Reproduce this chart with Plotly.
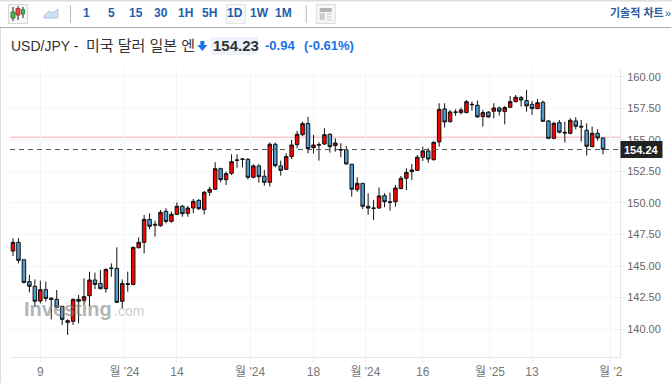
import plotly.graph_objects as go

W, H = 672, 383
PL, PR, PT, PB = 10, 620.5, 68, 357

opens = [146.19,146.88,145.50,143.76,143.39,142.22,143.12,142.46,142.35,141.80,140.66,140.61,142.35,142.27,142.64,143.89,143.62,143.20,144.84,144.81,142.20,143.60,143.54,146.45,146.88,148.70,148.31,148.20,
149.34,148.54,149.10,149.74,149.18,149.60,150.21,149.47,150.85,151.09,152.72,151.85,152.35,153.41,153.49,153.47,152.04,152.94,152.12,151.64,154.66,152.94,152.67,
153.68,154.63,155.42,156.30,154.39,154.63,154.68,155.45,154.55,154.23,154.23,153.07,151.06,151.56,149.74,149.60,149.60,150.58,150.10,150.10,151.14,151.96,152.49,152.59,153.63,154.13,153.44,
154.84,157.46,156.45,157.22,157.17,157.17,157.83,157.75,156.85,157.20,157.28,157.54,157.25,157.59,158.04,158.36,158.12,157.83,157.49,157.99,156.51,155.13,156.38,155.61,155.53,156.51,156.09,155.77,154.47,155.53,155.16]
highs = [147.20,147.20,145.50,144.29,143.94,143.84,143.76,142.46,143.09,141.82,140.77,142.43,142.70,144.02,144.55,144.47,144.68,144.81,145.21,146.48,143.94,144.55,146.53,147.27,149.05,149.18,148.60,149.44,
149.58,149.31,150.05,149.84,149.76,150.32,150.29,150.95,151.30,153.23,152.80,152.49,153.86,153.86,153.55,153.55,153.07,153.07,152.62,154.79,154.79,153.36,153.94,
155.00,155.72,156.46,156.85,155.40,154.82,155.93,155.53,155.13,154.74,154.52,153.10,152.04,151.56,150.77,150.24,151.24,150.77,150.82,151.43,152.14,152.75,153.10,153.81,154.47,154.34,154.90,
157.91,157.91,157.38,157.43,157.57,158.17,158.04,158.12,157.38,157.30,157.91,157.65,157.70,158.49,158.57,158.49,158.97,158.10,158.25,158.12,156.59,156.45,156.59,156.45,156.72,156.80,156.59,156.32,156.06,155.85,155.19]
lows = [145.79,145.21,143.62,142.91,141.77,142.04,142.17,140.77,141.64,140.32,139.53,140.32,140.45,141.90,141.77,143.17,143.15,142.88,144.15,142.06,141.64,142.96,143.46,146.40,146.00,147.91,147.33,148.12,
148.39,148.44,149.05,148.91,148.91,149.18,149.44,149.10,150.56,151.03,151.64,151.43,152.22,152.80,152.83,151.88,151.96,151.61,151.38,151.30,152.83,152.17,152.62,
153.49,154.34,155.32,153.94,153.94,153.36,154.60,154.00,154.07,153.63,153.04,150.50,150.90,149.52,149.05,148.65,149.55,149.66,149.39,149.71,151.09,151.03,151.83,152.54,153.33,153.20,153.36,
154.47,155.98,156.38,156.91,157.04,157.12,157.33,156.77,156.06,156.77,156.72,156.93,156.24,157.57,157.99,157.65,157.25,156.99,157.43,156.45,155.08,155.05,155.53,154.79,155.45,155.85,154.87,153.76,154.42,154.95,153.86]
closes = [146.88,145.45,143.70,143.39,142.20,143.12,142.43,142.35,141.72,140.77,140.53,142.35,142.20,142.57,143.89,143.54,143.20,144.73,144.81,142.12,143.62,143.54,146.48,146.88,148.70,148.15,148.25,149.26,
148.54,149.10,149.74,149.15,149.60,150.13,149.55,150.85,151.09,152.72,151.85,152.33,153.28,153.39,153.47,152.04,152.94,152.09,151.64,154.66,152.96,152.59,153.68,
154.60,155.45,156.30,154.31,154.60,154.60,155.42,154.47,154.76,154.21,153.10,151.09,151.56,149.74,149.60,149.58,150.56,150.10,150.05,151.19,151.96,152.43,152.62,153.63,154.13,153.49,154.82,
157.43,156.43,157.22,157.20,157.38,158.04,157.80,156.83,157.17,156.83,157.54,157.28,157.57,158.04,158.39,158.17,157.70,157.49,157.96,156.48,155.13,156.32,155.61,155.56,156.56,156.09,156.03,154.50,155.53,155.16,154.26]
index = list(range(len(closes)))

x_tick_vals = [5, 20.4, 30, 43.4, 55, 64.5, 75, 87.3, 95, 109.4]
x_tick_text = ["9", "월 '24", "14", "월 '24", "18", "월 '24", "16", "월 '25", "13", "월 '2"]
y_tick_vals = [140, 142.5, 145, 147.5, 150, 152.5, 155, 157.5, 160]

last_price = 154.24
ref_price = 155.21
y_min, y_max = 137.78, 160.71
x_min, x_max = -0.55, 111.1

timeframes = ["1", "5", "15", "30", "1H", "5H", "1D", "1W", "1M"]
timeframe_x = [87, 112, 136, 161, 186, 210, 235, 260, 284]

FONT = "Liberation Sans, Noto Sans CJK KR, sans-serif"
BLUE = "#1f5ea8"


def px(v):
    return (v - PL) / (PR - PL)


def py(v):
    return (PB - v) / (PB - PT)


def rect(x0, y0, x1, y1, fill=None, line=None, lw=1):
    return dict(type="rect", xref="paper", yref="paper", x0=px(x0), x1=px(x1), y0=py(y0), y1=py(y1),
                fillcolor=fill or "rgba(0,0,0,0)", line=dict(color=line or "rgba(0,0,0,0)", width=lw if line else 0),
                layer="above")


def seg(x0, y0, x1, y1, color, lw=1):
    return dict(type="line", xref="paper", yref="paper", x0=px(x0), x1=px(x1), y0=py(y0), y1=py(y1),
                line=dict(color=color, width=lw), layer="above")


def text(x, y, s, size, color, anchor="left", bold=False, bg=None):
    return dict(xref="paper", yref="paper", x=px(x), y=py(y), text=f"<b>{s}</b>" if bold else s, showarrow=False,
                xanchor=anchor, yanchor="middle", font=dict(family=FONT, size=size, color=color),
                bgcolor=bg, borderpad=0, xshift=0, yshift=0)


shapes = [
    dict(type="line", xref="paper", yref="y", x0=0, x1=1, y0=ref_price, y1=ref_price,
         line=dict(color="#f9c9cb", width=1.5), layer="below"),
    dict(type="line", xref="paper", yref="y", x0=0, x1=1, y0=last_price, y1=last_price,
         line=dict(color="#555555", width=1, dash="5px,4px"), layer="above"),
    seg(0, 0.5, W, 0.5, "#dddddd", 2),
    seg(0, 27.5, W, 27.5, "#aaaaaa", 1),
    seg(0.5, 28, 0.5, H, "#dddddd", 1),
    rect(8.5, 4.5, 27.5, 23.5, "#f7f7f7", "#d5d5d5"),
    seg(13, 7, 13, 21, "#888888", 2), rect(11, 12, 15, 18, "#4fae4f", "#3c8a3c"),
    seg(18, 6, 18, 20, "#888888", 2), rect(16, 8.5, 20, 15, "#e04a4a", "#b83232"),
    seg(23, 7, 23, 18, "#888888", 2), rect(21.5, 9.5, 24.5, 14, "#4fae4f", "#3c8a3c"),
    dict(type="path", xref="paper", yref="paper", layer="above",
         path="M {} {} L {} {} L {} {} L {} {} L {} {} L {} {} Z".format(
             px(44), py(16), px(49), py(11), px(53), py(13), px(58), py(9), px(58), py(18), px(44), py(18)),
         fillcolor="#cfe0f3", line=dict(color="#a9c6e6", width=1)),
    seg(70.5, 5, 70.5, 23, "#bbbbbb"),
    seg(306.5, 5, 306.5, 23, "#bbbbbb"),
    rect(226.5, 4.5, 245.5, 23.5, "#f7f7f7", "#e2e2e2"),
    rect(316.5, 4.5, 335.5, 23.5, "#f7f7f7", "#dddddd"),
    rect(320, 8, 332, 12, "#b5b5b5"),
    rect(320, 13, 325, 20, "#cccccc"),
    seg(327, 14, 332, 14, "#c4c4c4"), seg(327, 17, 332, 17, "#c4c4c4"), seg(327, 20, 332, 20, "#c4c4c4"),
    dict(type="path", xref="paper", yref="paper", layer="above",
         path="M {} {} L {} {} L {} {} L {} {} L {} {} L {} {} L {} {} Z".format(
             px(200.5), py(41), px(204.5), py(41), px(204.5), py(45), px(207.5), py(45),
             px(202.5), py(51), px(197.5), py(45), px(200.5), py(45)),
         fillcolor="#1a73e8", line=dict(width=0)),
    rect(211, 37, 258, 55, "#edf2fb"),
    rect(621, 141, 663, 158, "#222222"),
]

annotations = [
    text(10, 45.5, "USD/JPY -", 14, "#333333"),
    text(85, 45.5, "미국 달러 일본 엔", 15, "#333333"),
    text(212, 45.5, "154.23", 15, "#333333", bold=True),
    text(264, 45.5, "-0.94", 13, "#1a73e8", bold=True),
    text(303, 45.5, "(-0.61%)", 13, "#1a73e8", bold=True),
    text(609, 12.5, "기술적 차트", 11, "#2b5c99", bold=True),
    text(665, 12.5, "»", 11, "#2b5c99"),
    text(642, 149.5, f"{last_price:.2f}", 11, "#ffffff", anchor="center", bold=True),
    text(23, 309, "Investing", 20, "rgba(135,135,135,0.65)", bold=True),
    text(113, 311, ".com", 14, "rgba(170,170,170,0.6)"),
]
annotations += [text(x, 13, t, 12, BLUE, anchor="center", bold=True) for x, t in zip(timeframe_x, timeframes)]

fig = go.Figure(go.Candlestick(
    x=index, open=opens, high=highs, low=lows, close=closes,
    increasing=dict(fillcolor="#ff0000", line=dict(color="#111111", width=1)),
    decreasing=dict(fillcolor="#4f9bd3", line=dict(color="#111111", width=1)),
    whiskerwidth=0, showlegend=False, hoverinfo="skip",
))

fig.update_layout(
    width=W, height=H, autosize=False, boxgap=0.2, boxgroupgap=0.2,
    margin=dict(l=PL, r=W - PR, t=PT, b=H - PB, pad=0, autoexpand=False),
    paper_bgcolor="#ffffff", plot_bgcolor="#ffffff",
    font=dict(family=FONT, color="#666666", size=12),
    showlegend=False, shapes=shapes, annotations=annotations,
    xaxis=dict(range=[x_min, x_max], rangeslider=dict(visible=False), tickmode="array",
               tickvals=x_tick_vals, ticktext=x_tick_text, ticks="outside", ticklen=4, tickcolor="#e6eaf2",
               showgrid=True, gridcolor="#f4f5f8", gridwidth=1, showline=True, linecolor="#e3e6ee", linewidth=1,
               zeroline=False, tickfont=dict(size=12, color="#777777")),
    yaxis=dict(range=[y_min, y_max], side="right", tickmode="array", tickvals=y_tick_vals, tickformat=".2f",
               ticks="outside", ticklen=4, tickcolor="#e6eaf2", showgrid=True, gridcolor="#f4f5f8", gridwidth=1,
               showline=True, linecolor="#e3e6ee", linewidth=1, zeroline=False,
               tickfont=dict(size=11, color="#666666")),
)

fig.write_html("out.html", config=dict(displayModeBar=False, responsive=False),
               post_script="document.body.style.margin='0';document.body.style.overflow='hidden';")
